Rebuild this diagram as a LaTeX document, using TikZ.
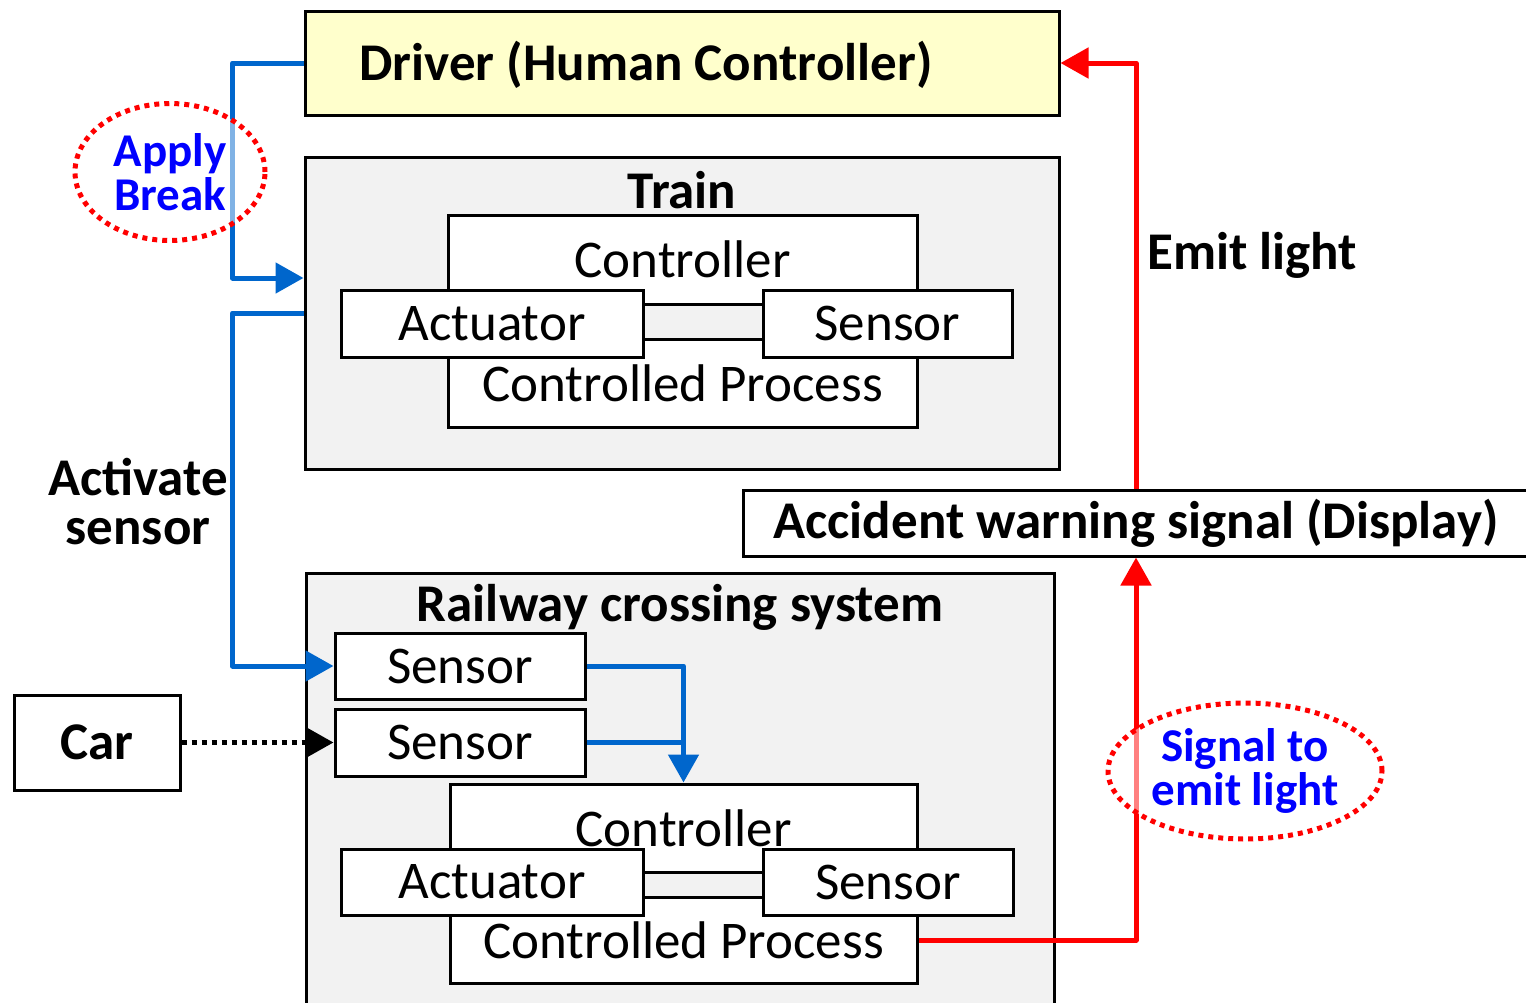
\documentclass[tikz,border=0pt]{standalone}
\usepackage{fontspec}
\setmainfont{Carlito}
\usetikzlibrary{shapes.geometric, arrows.meta}
\definecolor{driverfill}{HTML}{FFFFCC}
\definecolor{sysfill}{HTML}{F2F2F2}
\definecolor{linkblue}{HTML}{0066CC}
\definecolor{notered}{HTML}{FF0000}
\definecolor{noteblue}{HTML}{0000FF}

\begin{document}
\begin{tikzpicture}[x=1pt,y=-1pt]
    \tikzstyle{box} = [rectangle, draw=black, line width=3pt, fill=white, inner sep=0pt, text centered]
    \tikzstyle{title} = [font=\bfseries]
    \tikzstyle{oval} = [ellipse, draw=notered, line width=5pt, dash pattern=on 5pt off 5pt, fill=white, fill opacity=0.5, text opacity=1, text=noteblue, font=\fontsize{47}{44}\selectfont\bfseries, align=center, inner sep=0pt]
    \tikzstyle{bluelink} = [draw=linkblue, line width=5pt, line join=round]
    \tikzstyle{redlink} = [draw=notered, line width=5pt, line join=round]
    \tikzstyle{dotlink} = [draw=black, line width=5pt, dash pattern=on 5pt off 5pt]
    \tikzstyle{head} = [-{Triangle[length=28pt,width=30pt]}]
    \fontsize{53}{49}\selectfont
    \useasboundingbox (0,0) rectangle (1526,1002);
    \clip (0,0) rectangle (1526,1002);
    \node (driver) [box, fill=driverfill, minimum width=754pt, minimum height=104pt] at (682,63) {};
    \node (drivertext) [title] at (646,65) {Driver (Human Controller)};
    \node (train) [box, fill=sysfill, minimum width=754pt, minimum height=312pt] at (682,313) {};
    \node (traintitle) [title] at (682,190) {Train};
    \node (tctrl) [box, minimum width=469pt, minimum height=89pt] at (682.5,259.5) {Controller};
    \node (tproc) [box, minimum width=469pt, minimum height=88pt] at (682.5,383) {Controlled Process};
    \node (tact) [box, minimum width=302pt, minimum height=67pt] at (492,323.5) {Actuator};
    \node (tsen) [box, minimum width=249pt, minimum height=67pt] at (887.5,323.5) {Sensor};
    \node (rail) [box, fill=sysfill, minimum width=748pt, minimum height=440pt] at (680,793) {};
    \node (railtitle) [title] at (680,607) {Railway crossing system};
    \node (rsen1) [box, minimum width=250pt, minimum height=66pt] at (460,666) {Sensor};
    \node (rsen2) [box, minimum width=250pt, minimum height=67pt] at (460,742.5) {Sensor};
    \node (rctrl) [box, minimum width=467pt, minimum height=88pt] at (683.5,828) {Controller};
    \node (rproc) [box, minimum width=467pt, minimum height=86pt] at (683.5,940) {Controlled Process};
    \node (ract) [box, minimum width=302pt, minimum height=66pt] at (492,882) {Actuator};
    \node (rsen3) [box, minimum width=250pt, minimum height=66pt] at (888,882) {Sensor};
    \node (car) [box, title, minimum width=166pt, minimum height=95pt] at (97,742.5) {Car};
    \node (warn) [box, title, minimum width=786pt, minimum height=66pt] at (1136,523) {Accident warning signal (Display)};
    \node (emit) [title, anchor=west, inner sep=0pt] at (1147,255) {Emit light};
    \node (activate) [title, align=center] at (138,502) {Activate\\sensor};
    \draw[bluelink, head] (driver.west) -- ++(-71,0) |- ([yshift=35pt]train.west);
    \draw[bluelink, head] (train.west) -- ++(-71,0) |- (rsen1.west);
    \draw[bluelink, head] (rsen1.east) -| (rctrl.north);
    \draw[bluelink] (rsen2.east) -- (rsen2.east -| rctrl.north);
    \draw[redlink, head] (rproc.east) -| (warn.south);
    \draw[redlink, head] (warn.north) |- (driver.east);
    \draw[dotlink, head] (car.east) -- (rsen2.west);
    \node (apply) [oval, minimum width=190pt, minimum height=137pt] at (170,172) {Apply\\Break};
    \node (signal) [oval, minimum width=274pt, minimum height=136pt] at (1245,771) {Signal to\\emit light};
\end{tikzpicture}
\end{document}
